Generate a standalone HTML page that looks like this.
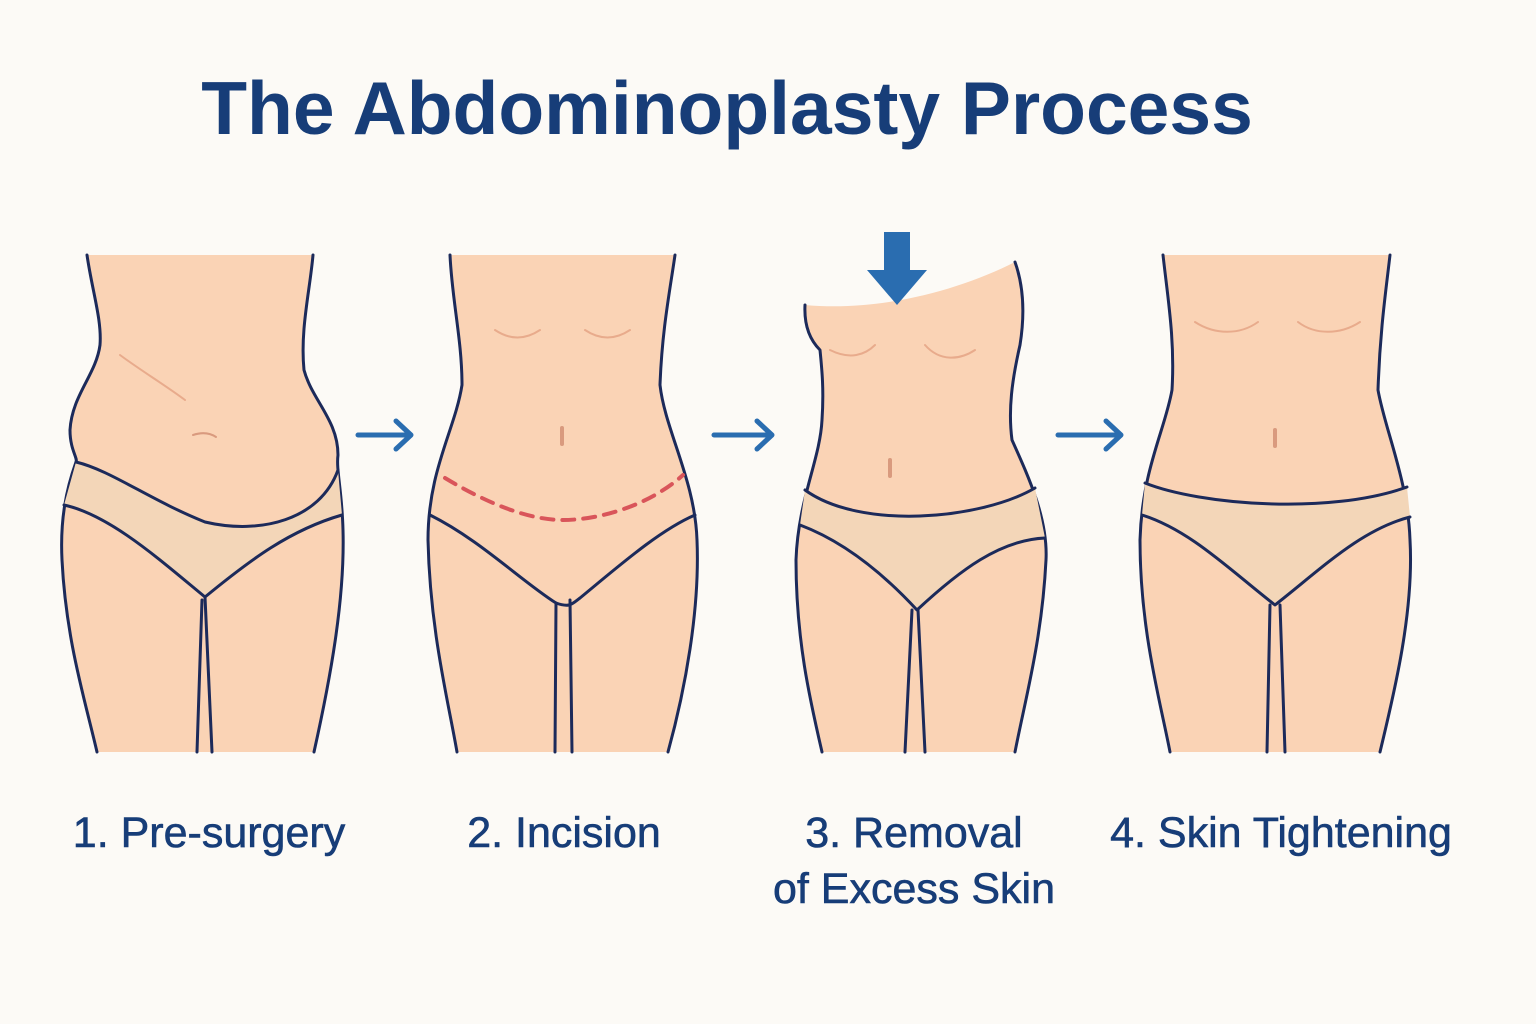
<!DOCTYPE html>
<html><head><meta charset="utf-8"><style>
html,body{margin:0;padding:0;background:#fcfaf6;}
svg{display:block}
</style></head><body>
<svg width="1536" height="1024" viewBox="0 0 1536 1024" xmlns="http://www.w3.org/2000/svg">
<rect width="1536" height="1024" fill="#fcfaf6"/>
<text x="727" y="134" text-anchor="middle" font-family="Liberation Sans, sans-serif" font-weight="bold" font-size="75" fill="#173d78">The Abdominoplasty Process</text>

<g stroke="#1c2a5a" stroke-width="3" fill="none" stroke-linejoin="round" stroke-linecap="round">
<!-- Figure 1 -->
<path d="M87 255 C92 290 102 320 100 345 C96 375 72 395 70 430 C70 450 78 458 76 462 C66 490 60 520 62 560 C66 640 85 700 97 752 L314 752 C330 680 345 600 343 530 C342 490 336 470 338 455 C338 420 312 400 304 370 C300 330 310 290 313 255 Z" fill="#fad3b5" stroke="none"/>
<path d="M87 255 C92 290 102 320 100 345 C96 375 72 395 70 430 C70 450 78 458 76 462 C66 490 60 520 62 560 C66 640 85 700 97 752"/>
<path d="M314 752 C330 680 345 600 343 530 C342 490 336 470 338 455 C338 420 312 400 304 370 C300 330 310 290 313 255"/>
<path d="M76 462 C120 470 150 500 205 520 C260 535 320 520 338 470 L342 515 C290 530 250 560 205 597 C160 560 110 515 64 505 Z" fill="#f3d6b8" stroke="none"/>
<path d="M76 462 C110 470 150 500 205 522 C260 535 320 520 338 470"/>
<path d="M64 505 C110 515 160 560 205 597 C250 560 290 530 342 515"/>
<path d="M205 597 L212 752 M202 600 L197 752"/>
<path d="M120 355 C140 370 165 385 185 400" stroke="#e8ab8c" stroke-width="2"/>
<path d="M193 435 C202 432 210 433 216 437" stroke="#d99a7e" stroke-width="2"/>

<!-- Figure 2 -->
<path d="M450 255 C452 300 462 340 462 385 C455 430 428 470 428 540 C430 630 448 700 457 752 L668 752 C685 690 700 610 697 540 C695 480 665 430 660 385 C662 330 670 290 675 255 Z" fill="#fad3b5" stroke="none"/>
<path d="M450 255 C452 300 462 340 462 385 C455 430 428 470 428 540 C430 630 448 700 457 752"/>
<path d="M668 752 C685 690 700 610 697 540 C695 480 665 430 660 385 C662 330 670 290 675 255"/>
<path d="M430 515 C480 540 520 580 556 603 C570 608 572 604 580 598 C620 565 660 530 695 515" />
<path d="M556 603 L555 752 M570 600 L572 752"/>
<path d="M445 478 C490 505 530 520 563 520 C600 520 650 505 683 475" stroke="#d9555a" stroke-width="4" stroke-dasharray="12 9"/>
<path d="M495 330 C510 340 525 340 540 330 M585 330 C600 340 615 340 630 330" stroke="#e8ab8c" stroke-width="2"/>
<path d="M562 428 L562 444" stroke="#d99a7e" stroke-width="4"/>

<!-- Figure 3 -->
<path d="M805 305 C880 312 960 290 1015 262 C1025 290 1024 320 1020 345 C1012 380 1008 410 1012 440 C1030 480 1048 520 1046 560 C1042 640 1025 700 1015 752 L822 752 C810 700 796 640 796 560 C798 500 820 460 822 420 C824 390 822 370 820 350 C810 340 804 325 805 305 Z" fill="#fad3b5" stroke="none"/>
<path d="M1015 752 C1025 700 1042 640 1046 560 C1048 520 1030 480 1012 440 C1008 410 1012 380 1020 345 C1024 320 1025 290 1015 262"/>
<path d="M822 752 C810 700 796 640 796 560 C798 500 820 460 822 420 C824 390 822 370 820 350 C810 340 804 325 805 305"/>
<path d="M805 490 C860 530 980 520 1035 488 L1045 538 C1000 540 960 570 917 610 C880 570 840 540 800 525 Z" fill="#f3d6b8" stroke="none"/>
<path d="M805 490 C860 530 980 520 1035 488"/>
<path d="M800 525 C840 540 880 570 917 610 C960 570 1000 540 1045 538"/>
<path d="M912 610 L905 752 M918 610 L925 752"/>
<path d="M830 350 C850 360 865 355 875 345 M925 345 C940 362 960 360 975 350" stroke="#e8ab8c" stroke-width="2"/>
<path d="M890 460 L890 476" stroke="#d99a7e" stroke-width="4"/>

<!-- Figure 4 -->
<path d="M1163 255 C1168 300 1175 340 1172 390 C1165 430 1142 470 1140 540 C1140 630 1160 700 1170 752 L1380 752 C1395 690 1414 610 1410 540 C1408 480 1385 430 1378 390 C1380 330 1386 290 1390 255 Z" fill="#fad3b5" stroke="none"/>
<path d="M1163 255 C1168 300 1175 340 1172 390 C1165 430 1142 470 1140 540 C1140 630 1160 700 1170 752"/>
<path d="M1380 752 C1395 690 1414 610 1410 540 C1408 480 1385 430 1378 390 C1380 330 1386 290 1390 255"/>
<path d="M1145 483 C1200 505 1330 515 1407 487 L1410 517 C1360 530 1320 570 1275 605 C1230 570 1190 530 1142 515 Z" fill="#f3d6b8" stroke="none"/>
<path d="M1145 483 C1200 505 1330 515 1407 487"/>
<path d="M1142 515 C1190 530 1230 570 1275 605 C1320 570 1360 530 1410 517"/>
<path d="M1270 605 L1267 752 M1280 605 L1285 752"/>
<path d="M1195 322 C1215 335 1240 335 1258 322 M1298 322 C1315 335 1340 335 1360 322" stroke="#e8ab8c" stroke-width="2"/>
<path d="M1275 430 L1275 446" stroke="#d99a7e" stroke-width="4"/>
</g>

<!-- arrows -->
<g stroke="#2a6db0" stroke-width="5" fill="none" stroke-linecap="round" stroke-linejoin="round">
<path d="M358 435 L410 435 M396 421 L411 435 L396 449"/>
<path d="M714 435 L771 435 M757 421 L772 435 L757 449"/>
<path d="M1058 435 L1120 435 M1106 421 L1121 435 L1106 449"/>
</g>
<path d="M884 232 L910 232 L910 270 L927 270 L897 305 L867 270 L884 270 Z" fill="#2a6db0"/>

<g font-family="Liberation Sans, sans-serif" font-size="43" fill="#173d78" text-anchor="middle" stroke="#173d78" stroke-width="0.6">
<text x="209" y="847">1. Pre-surgery</text>
<text x="564" y="847">2. Incision</text>
<text x="914" y="847">3. Removal</text>
<text x="914" y="903">of Excess Skin</text>
<text x="1281" y="847">4. Skin Tightening</text>
</g>
</svg>
</body></html>
